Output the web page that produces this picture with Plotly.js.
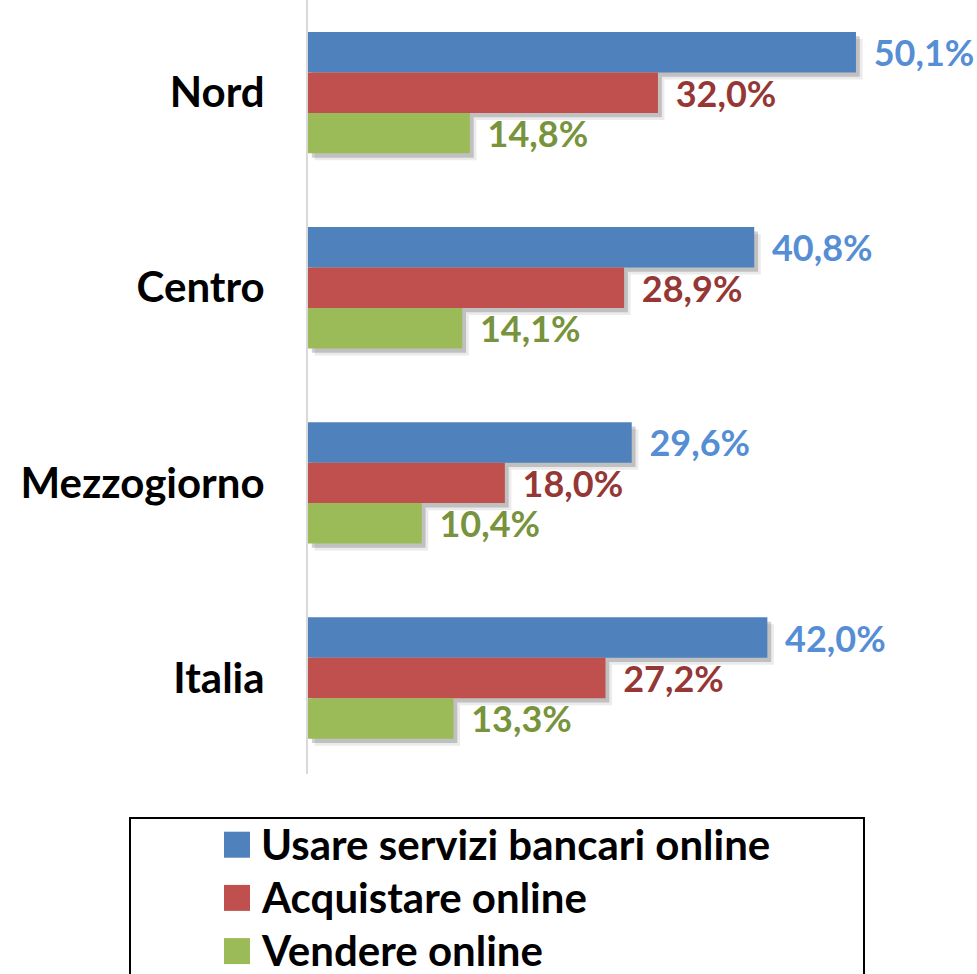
<!DOCTYPE html>
<html>
<head>
<meta charset="utf-8">
<script src="https://cdn.plot.ly/plotly-3.0.1.min.js"></script>
<style>html,body{margin:0;padding:0;background:#fff;}#chart{width:977px;height:974px;}</style>
</head>
<body>
<div id="chart"></div>
<script>
const categories = ["Nord", "Centro", "Mezzogiorno", "Italia"];
const seriesNames = ["Usare servizi bancari online", "Acquistare online", "Vendere online"];
const bancari = [50.1, 40.8, 29.6, 42.0];
const acquistare = [32.0, 28.9, 18.0, 27.2];
const vendere = [14.8, 14.1, 10.4, 13.3];

const seriesValues = [bancari, acquistare, vendere];
const barColors = ["#4F81BD", "#C0504D", "#9BBB59"];
const labelColors = ["#558ED5", "#953735", "#77933C"];

const W = 977, H = 974;
const FONT = "Lato, 'Open Sans', sans-serif";
const WEIGHT = 700;
const barW = 0.2073;
const groupStart = -1.5 * barW;

const traces = [];
// shadows
[[0.35, 0.022, 0.18], [0.6, 0.036, 0.08]].forEach(function (s) {
  seriesValues.forEach(function (vals, i) {
    traces.push({
      type: "bar", orientation: "h", y: categories, x: vals,
      base: s[0], offset: groupStart + i * barW + s[1], width: barW,
      marker: { color: "rgba(0,0,0," + s[2] + ")", line: { width: 0 } },
      hoverinfo: "skip", showlegend: false
    });
  });
});
seriesValues.forEach(function (vals, i) {
  traces.push({
    type: "bar", orientation: "h", name: seriesNames[i], y: categories, x: vals,
    offset: groupStart + i * barW, width: barW,
    marker: { color: barColors[i], line: { width: 0 } },
    texttemplate: "\u00a0\u2006%{x:.1f}%", textposition: "outside",
    constraintext: "none", cliponaxis: false,
    textfont: { family: FONT, size: 36, weight: WEIGHT, color: labelColors[i] },
    showlegend: false
  });
});

const px2x = function (p) { return p / W; };
const px2y = function (p) { return 1 - p / H; };

const shapes = [{
  type: "rect", xref: "paper", yref: "paper",
  x0: px2x(130), x1: px2x(864), y0: px2y(990), y1: px2y(818),
  line: { color: "#000", width: 2 }, fillcolor: "rgba(0,0,0,0)"
}];
const annotations = [];
const legTop = 831.7, legStep = 53.2, sq = 26;
seriesNames.forEach(function (n, i) {
  const t = legTop + i * legStep;
  shapes.push({
    type: "rect", xref: "paper", yref: "paper",
    x0: px2x(224), x1: px2x(250), y0: px2y(t + sq), y1: px2y(t),
    line: { width: 0 }, fillcolor: barColors[i]
  });
  annotations.push({
    xref: "paper", yref: "paper", x: px2x(259), y: px2y(t + sq / 2 - 1),
    xanchor: "left", yanchor: "middle", showarrow: false, text: n,
    font: { family: FONT, size: 42, weight: WEIGHT, color: "#000" }
  });
});

const layout = {
  width: W, height: H,
  margin: { l: 0, r: 0, t: 0, b: 0 },
  paper_bgcolor: "#fff", plot_bgcolor: "#fff",
  barmode: "overlay",
  separators: ",.",
  showlegend: false,
  xaxis: {
    domain: [308 / W, 965 / W], range: [0, 60.07],
    showgrid: false, zeroline: false, showline: false, showticklabels: false, ticks: ""
  },
  yaxis: {
    domain: [(H - 774) / H, 1], range: [3.492, -0.475], type: "category",
    showgrid: false, zeroline: false, showline: true, linecolor: "#D9D9D9", linewidth: 2,
    ticks: "outside", ticklen: 33, tickcolor: "rgba(0,0,0,0)",
    tickfont: { family: FONT, size: 42, weight: WEIGHT, color: "#000" }
  },
  shapes: shapes,
  annotations: annotations
};

Plotly.newPlot("chart", traces, layout, { displayModeBar: false, staticPlot: true });
</script>
</body>
</html>
